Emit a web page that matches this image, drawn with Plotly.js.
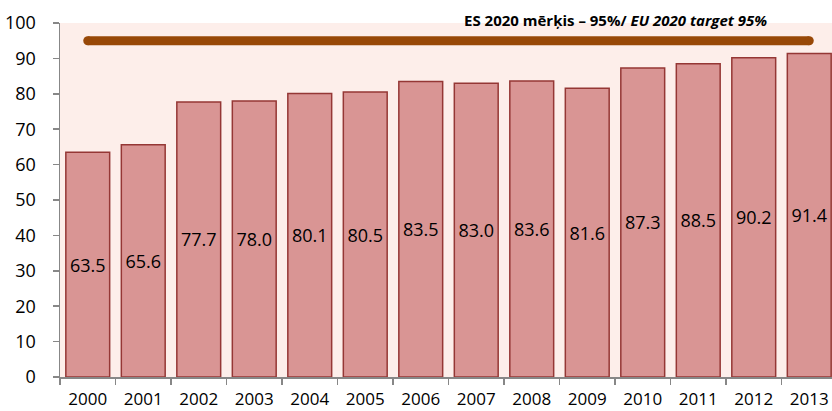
<!DOCTYPE html>
<html>
<head>
<meta charset="utf-8">
<script src="https://cdn.plot.ly/plotly-3.0.1.min.js"></script>
<style>html,body{margin:0;padding:0;background:#fff;}#chart{width:832px;height:411px;}</style>
</head>
<body>
<div id="chart"></div>
<script>
const years = ["2000","2001","2002","2003","2004","2005","2006","2007","2008","2009","2010","2011","2012","2013"];
const values = [63.5,65.6,77.7,78.0,80.1,80.5,83.5,83.0,83.6,81.6,87.3,88.5,90.2,91.4];
const targetYears = ["2000","2013"];
const targetValues = [95,95];
const yTicks = [0,10,20,30,40,50,60,70,80,90,100];
const titleText = "ES 2020 mērķis – 95%/ <i>EU 2020 target 95%</i>";

const font = "'Open Sans', 'Noto Sans', sans-serif";

const bars = {
  type: "bar",
  x: years,
  y: values,
  text: values.map(v => v.toFixed(1)),
  textposition: "inside",
  insidetextanchor: "middle",
  textangle: 0,
  constraintext: "none",
  textfont: {family: font, size: 18, color: "#000"},
  marker: {color: "#D99594", line: {color: "#953735", width: 1.5}},
  hoverinfo: "none"
};
const target = {
  type: "scatter",
  mode: "lines+markers",
  x: targetYears,
  y: targetValues,
  line: {color: "#984807", width: 9},
  marker: {color: "#984807", size: 9, line: {width: 0}},
  hoverinfo: "none",
  cliponaxis: false
};

const layout = {
  width: 832, height: 411,
  margin: {l: 60, r: 0, t: 23, b: 34},
  paper_bgcolor: "#ffffff",
  plot_bgcolor: "#FDEEEA",
  showlegend: false,
  bargap: 0.21,
  font: {family: font, color: "#000"},
  xaxis: {
    type: "category",
    range: [-0.5, 13.41],
    showline: true, linecolor: "#878787", linewidth: 1.5,
    ticks: "outside", tickson: "boundaries", ticklen: 6, tickcolor: "#878787", tickwidth: 1.5,
    ticklabelstandoff: 6,
    tickfont: {family: font, size: 17, color: "#000"},
    showgrid: false, zeroline: false, fixedrange: true
  },
  yaxis: {
    range: [0, 100],
    tickvals: yTicks,
    showline: true, linecolor: "#878787", linewidth: 1.5,
    ticks: "outside", ticklen: 6, tickcolor: "#878787", tickwidth: 1.5,
    ticklabelstandoff: 13,
    tickfont: {family: font, size: 18, color: "#000"},
    showgrid: false, zeroline: false, fixedrange: true
  },
  annotations: [{
    text: "<b>" + titleText + "</b>",
    xref: "paper", yref: "paper",
    x: 0.72, y: 1.0, xanchor: "center", yanchor: "bottom",
    yshift: -9,
    showarrow: false,
    font: {family: font, size: 15, color: "#000"}
  }]
};

Plotly.newPlot("chart", [bars, target], layout, {displayModeBar: false, staticPlot: true});
</script>
</body>
</html>
